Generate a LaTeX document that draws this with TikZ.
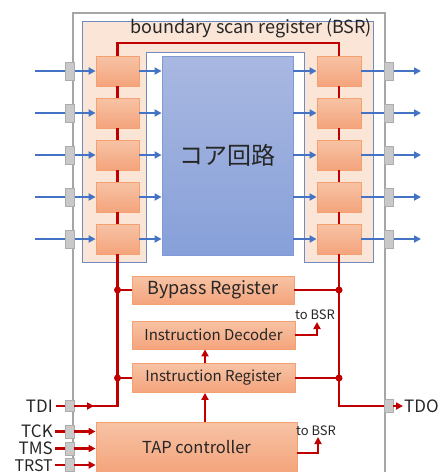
\documentclass[tikz,border=0pt]{standalone}
\usepackage{fontspec}
\setmainfont{Noto Sans CJK JP}
\usetikzlibrary{arrows.meta}
\definecolor{chipgray}{HTML}{A6A6A6}
\definecolor{pinfill}{HTML}{C9C9C9}
\definecolor{pinborder}{HTML}{ADADAD}
\definecolor{bsrfill}{HTML}{FBE5D6}
\definecolor{bsrdraw}{HTML}{6F8BC0}
\definecolor{cellTop}{HTML}{F7C3A5}
\definecolor{cellBot}{HTML}{F4A47C}
\definecolor{cellborder}{HTML}{F4A070}
\definecolor{coreTop}{HTML}{A9B8E1}
\definecolor{coreBot}{HTML}{87A0D9}
\definecolor{coredraw}{HTML}{7F9BD6}
\definecolor{bl}{HTML}{4472C4}
\definecolor{rd}{HTML}{C00000}
\definecolor{txt}{HTML}{262626}
\tikzset{
 cellbox/.style={draw=cellborder, line width=0.8pt, top color=cellTop, bottom color=cellBot, minimum width=43pt, minimum height=30pt, inner sep=0pt},
 regbox/.style={cellbox, font=\fontsize{16}{18}\selectfont, text=txt},
 pinbox/.style={draw=pinborder, fill=pinfill, line width=0.6pt, minimum width=9pt, minimum height=18pt, inner sep=0pt},
 barrow/.style={draw=bl, line width=2.5pt, -{Triangle[length=7pt,width=7pt]}},
 rline/.style={draw=rd, line width=2.5pt},
 rarrow/.style={rline, -{Triangle[length=7pt,width=7pt]}},
 lbl/.style={font=\fontsize{17}{18}\selectfont, text=txt, inner sep=0pt},
 smalllbl/.style={font=\fontsize{13}{14}\selectfont, text=txt, inner sep=0pt}
}
\begin{document}
\begin{tikzpicture}[x=1pt,y=-1pt]
\useasboundingbox (0,0) rectangle (440,472);
\begin{scope}
\clip (0,0) rectangle (440,472);
% chip outline
\draw[chipgray, line width=2pt] (73,480) -- (73,13) -- (385,13) -- (385,480);
% boundary scan register area
\draw[fill=bsrfill, draw=bsrdraw, line width=0.8pt] (82,21) -- (373,21) -- (373,262) -- (304,262) -- (304,52) -- (146,52) -- (146,262) -- (82,262) -- cycle;
\node[font=\fontsize{18}{20}\selectfont, text=txt, anchor=base] (bsrlabel) at (251,33) {boundary scan register (BSR)};
% core
\node[draw=coredraw, line width=0.8pt, top color=coreTop, bottom color=coreBot, minimum width=131pt, minimum height=199pt, font=\fontsize{24}{26}\selectfont, text=txt] (core) at (227.5,155.5) {コア回路};
% cells
\foreach \i/\y in {1/71,2/113,3/155,4/197,5/239}{
  \node[cellbox] (L\i) at (117.5,\y) {};
  \node[cellbox, minimum width=44pt] (R\i) at (339,\y) {};
}
% scan chain
\coordinate (topline) at (0,43);
\draw[rline] (L1.north) |- (topline -| R1.north) -- (R1.north);
\foreach \i/\j in {1/2,2/3,3/4,4/5}{
  \draw[rline] (L\i.south) -- (L\j.north);
  \draw[rline] (R\i.south) -- (R\j.north);
}
% data arrows and pins
\foreach \i/\y in {1/71,2/113,3/155,4/197,5/239}{
  \coordinate (inL\i) at (35,\y);
  \coordinate (outR\i) at (421,\y);
  \draw[barrow] (inL\i) -- (L\i.west);
  \draw[barrow] (L\i.east) -- (L\i.east -| core.west);
  \draw[barrow] (R\i.west -| core.east) -- (R\i.west);
  \draw[barrow] (R\i.east) -- (outR\i);
  \node[pinbox] (PL\i) at (69.5,\y) {};
  \node[pinbox] (PR\i) at (388.5,\y) {};
}
% registers
\node[regbox, minimum width=162pt, minimum height=28pt, font=\fontsize{18}{20}\selectfont] (bypass) at (213,290) {Bypass Register};
\node[regbox, minimum width=163pt, minimum height=28pt, font=\fontsize{15}{17}\selectfont] (idec) at (213.5,335) {Instruction Decoder};
\node[regbox, minimum width=163pt, minimum height=29pt, font=\fontsize{15}{17}\selectfont] (ireg) at (213.5,378) {Instruction Register};
\node[regbox, minimum width=201pt, minimum height=50pt, font=\fontsize{16.5}{18}\selectfont] (tap) at (196.5,447) {TAP controller};
% bottom pins
\node[pinbox, minimum height=11pt] (PTDI) at (69.5,406) {};
\node[pinbox, minimum height=13pt] (PTCK) at (69.5,431.5) {};
\node[pinbox, minimum height=13pt] (PTMS) at (69.5,448.5) {};
\node[pinbox, minimum height=13pt] (PTRST) at (69.5,465) {};
\node[pinbox, minimum height=13pt] (PTDO) at (388.5,406) {};
% TDI / TDO path
\draw[rline] (L5.south) -- (L5.south |- PTDI.east) -- (PTDI.east);
\coordinate (tdiarr) at (94,406);
\draw[rarrow] (PTDI.east) -- (tdiarr);
\draw[rline] (R5.south) |- (PTDO.west);
\coordinate (tdoarr) at (403,406);
\draw[rarrow] (PTDO.east) -- (tdoarr);
% register taps
\foreach \n in {bypass,ireg}{
  \draw[rline] (L5.south |- \n.west) -- (\n.west);
  \draw[rline] (\n.east) -- (R5.south |- \n.east);
  \fill[rd] (L5.south |- \n.west) circle (3.5pt);
  \fill[rd] (R5.south |- \n.east) circle (3.5pt);
}
\draw[rarrow] ([xshift=-8.5pt]ireg.north) -- ([xshift=-8.5pt]idec.south);
\draw[rarrow] ([xshift=8.5pt]tap.north) -- ([xshift=8.5pt]tap.north |- ireg.south);
% to BSR
\coordinate (bsr1) at (317,322);
\draw[rarrow] (idec.east) -| (bsr1);
\node[smalllbl, anchor=base] (tb1) at (315,319) {to BSR};
\coordinate (bsr2) at (318,437);
\draw[rarrow] ([yshift=-6pt]tap.east) -| (bsr2);
\node[smalllbl, anchor=base] (tb2) at (316,435) {to BSR};
% labels
\node[lbl, anchor=east] (lTDI) at (53,406) {TDI};
\draw[rline] ([xshift=3pt]lTDI.east) -- (PTDI.west);
\foreach \n in {TCK,TMS}{
  \node[lbl, anchor=east] (l\n) at (53,0 |- P\n.west) {\n};
  \draw[rline] ([xshift=2pt]l\n.east) -- (P\n.west);
  \draw[rarrow] (P\n.east) -- (P\n.east -| tap.west);
}
\node[lbl, anchor=south east, font=\fontsize{16}{17}\selectfont] (lTRST) at (53,471.5) {TRST};
\draw[rline] ([xshift=2pt]lTRST.east |- PTRST.west) -- (PTRST.west);
\draw[rarrow] (PTRST.east) -- (PTRST.east -| tap.west);
\node[lbl, anchor=west] (lTDO) at (404,406) {TDO};
\end{scope}
\end{tikzpicture}
\end{document}
